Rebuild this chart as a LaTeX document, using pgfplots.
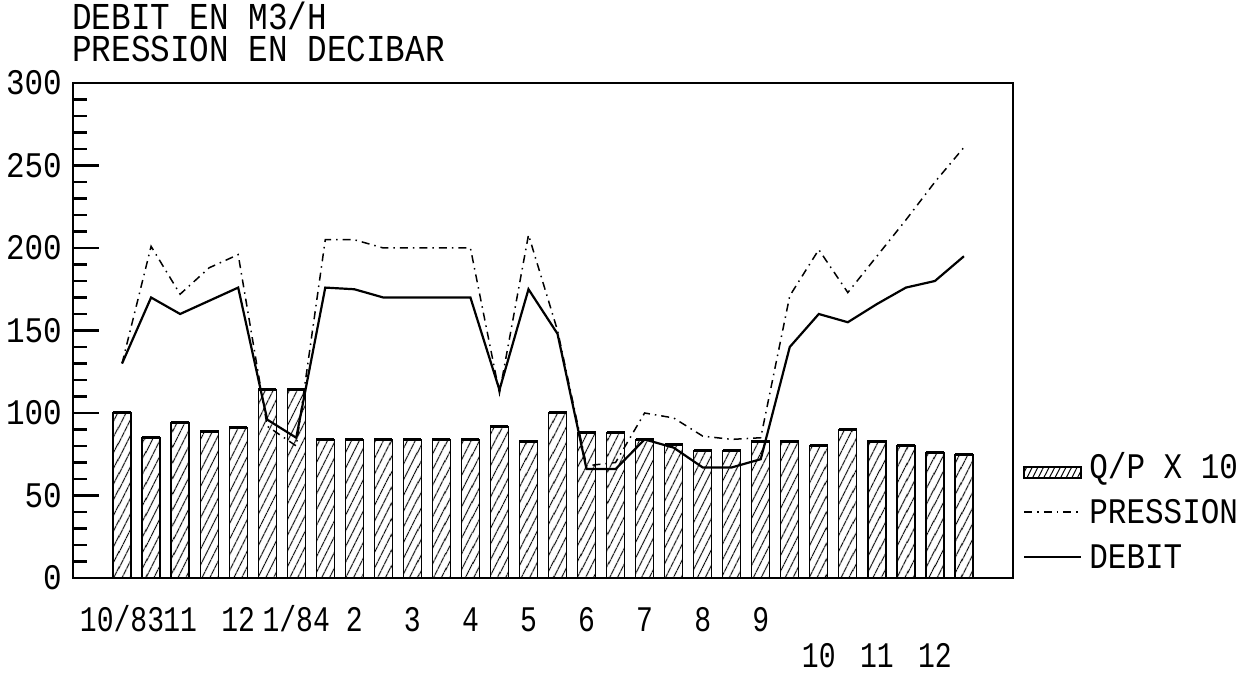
\documentclass[border=0pt]{standalone}
\usepackage{fontspec}
\setmainfont{Liberation Mono}[FakeStretch=0.86]
\newfontfamily\xfont{Liberation Mono}[FakeStretch=0.78]
\usepackage{pgfplots}
\pgfplotsset{compat=1.18}
\usetikzlibrary{patterns.meta}
\usepackage{pgfplotstable}

\pgfplotsset{
  leglineimg/.style={legend image code/.code={\draw[##1] (0pt,-1pt) -- (57pt,-1pt);}},
  legbarimg/.style={legend image code/.code={\draw[black, line width=2pt, pattern={Lines[angle=63,distance=5pt,line width=1pt]}, pattern color=black] (0pt,-12pt) rectangle (57pt,-1pt);}},
}

\pgfplotstableread{
i  qp   pres  deb
1  100  130   130
2  85   201   170
3  94   172   160
4  89   188   168
5  91   196   176
6  114  92    96
7  114  80    85
8  84   205   176
9  84   205   175
10 84   200   170
11 84   200   170
12 84   200   170
13 84   200   170
14 92   112   114
15 83   208   175
16 100  150   148
17 88   68    66
18 88   70    66
19 84   100   84
20 81   97    79
21 77   86    67
22 77   84    67
23 83   85    72
24 83   171   140
25 80   199   160
26 90   173   155
27 83   195   166
28 80   217   176
29 76   240   180
30 75   261   195
}\data

\begin{document}
\begin{tikzpicture}[x=1pt,y=1pt]
\path[use as bounding box] (0,0) rectangle (1252,676);
\begin{axis}[
  at={(73pt,98pt)}, anchor=south west,
  scale only axis, width=940pt, height=495pt,
  xmin=-0.69, xmax=31.69, ymin=0, ymax=300,
  axis line style={line width=2.5pt},
  ytick={0,50,...,300}, minor y tick num=4,
  ytick pos=left, xtick pos=bottom,
  tick align=inside,
  major tick length=26pt, minor tick length=14pt,
  every major tick/.append style={line width=2.5pt, black},
  every minor tick/.append style={line width=2.5pt, black},
  x tick style={draw=none},
  xtick={1,3,...,29},
  xticklabels={10/83,11,12,1/84,2,3,4,5,6,7,8,9,{\raisebox{-36pt}{10}},{\raisebox{-36pt}{11}},{\raisebox{-36pt}{12}}},
  x tick label style={font=\xfont\fontsize{36}{40}\selectfont, anchor=base, inner sep=0pt, yshift=-54pt},
  y tick label style={font=\fontsize{36}{40}\selectfont, anchor=east, inner sep=0pt, xshift=-11pt},
  /pgf/number format/assume math mode=true,
  legend style={at={(1.0,0.141)}, anchor=west, xshift=10pt, yshift=-3pt, draw=none, fill=none,
    font=\fontsize{36}{40}\selectfont, inner sep=0pt, row sep=20pt, column sep=7pt,
    nodes={inner sep=0pt, text height=25pt, text depth=0pt}},
  legend cell align=left,
]
\addplot[ybar, bar width=18pt, draw=black, line width=1.3pt,
  pattern={Lines[angle=63,distance=6.5pt,line width=1pt]}, pattern color=black,
  legbarimg]
  table[x=i, y=qp] {\data};
\addlegendentry{Q/P X 10}
\addplot[only marks, mark=-, mark size=9pt, mark options={line width=3pt, black}, forget plot]
  table[x=i, y=qp] {\data};
\addplot[black, line width=1.5pt, mark=none, dash pattern={on 8pt off 5pt on 1.5pt off 5pt},
  leglineimg]
  table[x=i, y=pres] {\data};
\addlegendentry{PRESSION}
\addplot[black, line width=2.2pt, mark=none, leglineimg]
  table[x=i, y=deb] {\data};
\addlegendentry{DEBIT}
\end{axis}
\node[anchor=base west, inner sep=0pt, align=left, font=\fontsize{38}{32}\selectfont] at (72,614) {DEBIT EN M3/H\\PRESSION EN DECIBAR};
\end{tikzpicture}
\end{document}
